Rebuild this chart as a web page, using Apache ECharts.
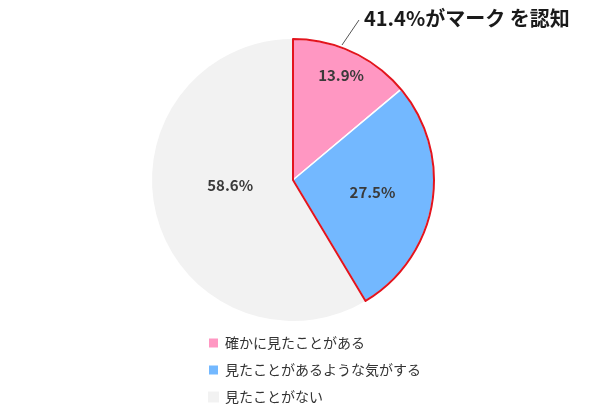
<!DOCTYPE html>
<html>
<head>
<meta charset="utf-8">
<script src="https://cdn.jsdelivr.net/npm/echarts@6/dist/echarts.min.js"></script>
<style>
html,body{margin:0;padding:0;background:#fff;}
#chart{width:590px;height:415px;}
</style>
</head>
<body>
<div id="chart"></div>
<script>
// Data
const categories = ['確かに見たことがある', '見たことがあるような気がする', '見たことがない'];
const values = [13.9, 27.5, 58.6];
const colors = ['#FF97C2', '#73B8FF', '#F2F2F2'];
const awareGroup = ['認知', '非認知'];
const awareValues = [41.4, 58.6];
const annotationText = '41.4%がマーク を認知';

const FONT = '"Noto Sans CJK JP", "Noto Sans", sans-serif';
// label nudges (dx, dy) from default inside position
const labelShift = [[17, -38], [7, 0], [8, -14]];

const chart = echarts.init(document.getElementById('chart'), null, {renderer: 'canvas'});
chart.setOption({
  animation: false,
  backgroundColor: '#ffffff',
  legend: {
    data: categories,
    orient: 'vertical',
    left: 207,
    top: 336,
    padding: 0,
    itemWidth: 11,
    itemHeight: 11,
    itemGap: 13,
    icon: 'rect',
    selectedMode: false,
    textStyle: {fontFamily: FONT, fontSize: 14, color: '#333', lineHeight: 14, padding: [0, 0, 0, 1]}
  },
  graphic: [
    {type: 'line', silent: true, shape: {x1: 342, y1: 45, x2: 359, y2: 20}, style: {stroke: '#555', lineWidth: 1}},
    {type: 'text', silent: true, left: 364, top: 8, style: {text: annotationText, font: 'bold 20px ' + FONT, fill: '#1a1a1a'}}
  ],
  series: [
    {
      type: 'pie',
      center: [293, 180],
      radius: 141,
      startAngle: 90,
      clockwise: true,
      silent: true,
      data: categories.map((c, i) => ({
        name: c,
        value: values[i],
        itemStyle: {color: colors[i], borderColor: '#ffffff', borderWidth: i === 2 ? 0 : 1.5}
      })),
      label: {
        show: true,
        position: 'inside',
        formatter: p => p.value.toFixed(1) + '%',
        fontFamily: FONT,
        fontSize: 15,
        fontWeight: 'bold',
        color: '#3a3a3a'
      },
      labelLine: {show: false},
      labelLayout: p => ({dx: labelShift[p.dataIndex][0], dy: labelShift[p.dataIndex][1]})
    },
    {
      type: 'pie',
      center: [293, 180],
      radius: 141,
      startAngle: 90,
      clockwise: true,
      silent: true,
      z: 5,
      label: {show: false},
      labelLine: {show: false},
      data: awareGroup.map((n, i) => ({
        name: n,
        value: awareValues[i],
        itemStyle: i === 0
          ? {color: 'rgba(0,0,0,0)', borderColor: '#E3141E', borderWidth: 2}
          : {color: 'rgba(0,0,0,0)', borderWidth: 0}
      }))
    }
  ]
});
</script>
</body>
</html>
